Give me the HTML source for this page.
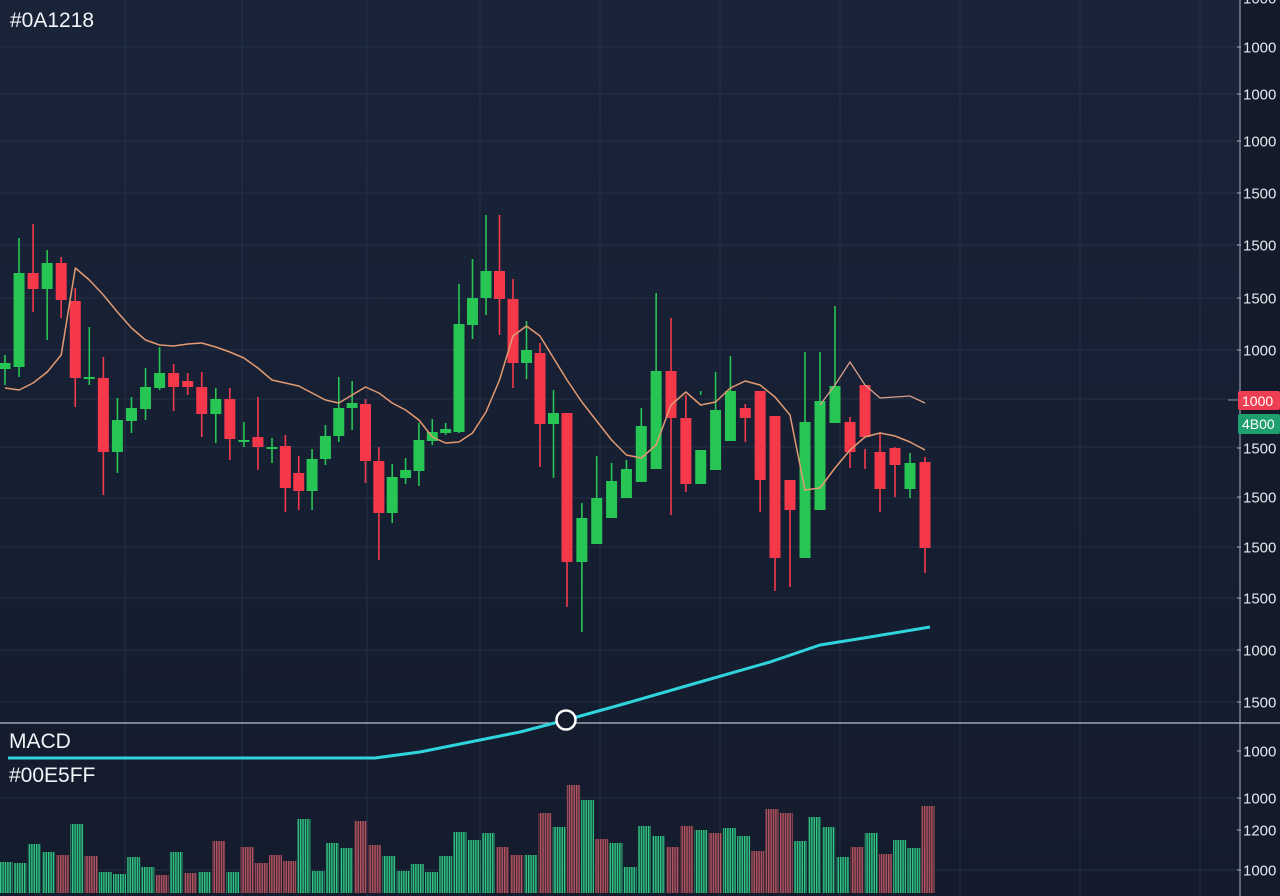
<!DOCTYPE html>
<html><head><meta charset="utf-8">
<style>
html,body{margin:0;padding:0;background:#141c2e;}
#wrap{position:relative;width:1280px;height:896px;overflow:hidden;font-family:"Liberation Sans",sans-serif;}
svg{position:absolute;left:0;top:0;}
.lbl{position:absolute;color:#f2f4f8;font-size:21px;}
</style></head>
<body>
<div id="wrap">
<svg id="chart" width="1280" height="896">
 <defs>
  <linearGradient id="bg" x1="0" y1="0" x2="0" y2="1">
   <stop offset="0" stop-color="#1a2439"/><stop offset="1" stop-color="#131b2c"/>
  </linearGradient>
  <pattern id="stripeG" width="2.4" height="4" patternUnits="userSpaceOnUse">
   <rect width="1.4" height="4" fill="#2fc985"/><rect x="1.4" width="1" height="4" fill="#173a3a"/>
  </pattern>
  <pattern id="stripeR" width="2.4" height="4" patternUnits="userSpaceOnUse">
   <rect width="1.4" height="4" fill="#b4565f"/><rect x="1.4" width="1" height="4" fill="#3a2234"/>
  </pattern>
 </defs>
 <rect width="1280" height="896" fill="url(#bg)"/>
 <rect x="1240" y="0" width="40" height="896" fill="#131a2a"/>
 <g id="grid"></g>
 <g id="volume"></g>
 <g id="candles"></g>
 <g id="mas"></g>
 <g id="macd"></g>
 <g id="axis"></g>
</svg>
<div class="lbl" style="left:10px;top:9px;">#0A1218</div>
<div class="lbl" style="left:9px;top:730px;">MACD</div>
<div class="lbl" style="left:9px;top:764px;">#00E5FF</div>
</div>
<script>
// ---- data ----
const opens  = [431,433,527,511,537,499,423,422,348,379,391,412,427,419,413,386,401,360,363,353,354,327,309,341,364,392,396,339,287,322,329,359,367,368,475,502,529,501,437,447,376,387,238,256,282,302,318,331,429,382,316,330,359,392,409,384,320,242,290,377,378,415,348,352,311,338];
const highs  = [445,562,576,550,543,512,473,443,402,403,432,453,436,427,428,412,412,378,403,362,365,344,351,375,423,419,401,353,336,342,377,381,377,516,541,585,585,521,479,457,410,322,297,344,337,340,392,507,482,405,409,428,444,396,352,302,313,448,448,494,383,351,366,353,347,343];
const lows   = [415,423,488,460,482,393,415,305,327,367,380,410,389,405,363,357,340,353,330,337,288,290,290,335,358,370,317,240,277,316,314,355,365,367,461,485,465,412,421,333,322,193,168,273,288,306,329,370,285,308,405,347,367,358,288,209,213,285,358,378,332,331,288,303,302,227];
const closes = [437,527,511,537,500,422,423,348,380,392,413,427,413,413,386,401,361,360,353,353,312,309,341,364,392,397,339,287,323,330,360,368,371,476,502,529,501,437,450,376,387,238,282,302,319,331,374,429,382,316,350,390,409,382,320,242,290,378,399,414,348,363,311,335,337,252];
const volumes = [31,30,49,41,38,69,37,21,19,36,26,18,41,20,21,52,21,46,30,38,32,74,22,50,45,72,48,37,22,29,21,37,61,53,60,46,38,38,80,66,108,93,54,50,26,67,57,46,67,63,60,65,57,42,84,80,52,76,66,36,46,60,39,53,45,87];
const volUp = [1,1,1,1,0,1,0,1,1,1,1,0,1,0,1,0,1,0,0,0,0,1,1,1,1,0,0,1,1,1,1,1,1,1,1,0,0,1,0,1,0,1,0,1,1,1,1,0,0,1,0,1,1,0,0,0,1,1,1,1,0,1,0,1,1,0];
const maFast = [412,410,417,428,445,532,520,505,488,472,460,455,454,456,457,453,448,442,432,420,417,414,407,400,397,405,413,407,397,390,380,363,357,358,367,388,420,464,474,464,442,420,398,379,360,345,342,355,395,408,395,398,412,419,415,403,385,310,312,332,350,363,367,364,358,350];
const maSlow = [null,null,null,null,null,null,null,null,null,null,null,null,null,null,null,null,null,null,null,null,null,null,null,null,null,null,null,null,null,null,null,null,null,null,null,null,null,null,null,null,null,null,null,null,null,null,null,null,null,null,null,null,null,null,null,null,null,null,395,415,438,415,402,403,404,397];
const macdX = [8,375,420,465,520,566,620,700,770,820,870,930];
const macdY = [758,758,752,743,732,720,705,682,662,645,637,627];
const priceTicks = ["1000","1000","1000","1000","1500","1500","1500","1000","1500","1500","1500","1500","1000","1500"];
const priceTickY = [-2,47,94,141,193,245,298,350,448,497,547,598,650,702];
const volTicks = ["1000","1000","1200","1000"];
const volTickY = [751,798,830,870];

// ---- scales ----
const N = opens.length;
// time axis with uneven session spacing (piecewise linear)
const axisIdx = [0,19,33,41,55,65];
const axisPx  = [5,272,459,567,775,925];
function xScale(i){
  for(let k=1;k<axisIdx.length;k++){
    if(i<=axisIdx[k]){const t=(i-axisIdx[k-1])/(axisIdx[k]-axisIdx[k-1]);return axisPx[k-1]+t*(axisPx[k]-axisPx[k-1]);}
  }
  return axisPx[axisPx.length-1];
}
const vxScale = i => 6 + i*(922/(N-1));
const yScale = v => 800 - v;
const vScale = v => 893 - v;
const NS = "http://www.w3.org/2000/svg";
function mk(tag, attrs, parent){const e=document.createElementNS(NS,tag);for(const k in attrs)e.setAttribute(k,attrs[k]);parent.appendChild(e);return e;}

// grid
const grid = document.getElementById('grid');
[125,242,367,480,600,720,840,960,1080,1200].forEach(x=>{
  const l=mk('line',{x1:x,y1:0,x2:x,y2:896,stroke:'#233047','stroke-width':1},grid);
  
  
});
[47,94,141,193,245,298,350,399,447,498,547,598,650,702,798,870].forEach(y=>{
  const l=mk('line',{x1:0,y1:y,x2:1240,y2:y,stroke:'#223046','stroke-width':1},grid);
  
  
});

// volume
const vg = document.getElementById('volume');
for(let i=0;i<N;i++){
  const x=vxScale(i), top=vScale(volumes[i]);
  const r=mk('rect',{x:x-6.5,y:top,width:13,height:893-top,fill:volUp[i]?'url(#stripeG)':'url(#stripeR)'},vg);
  
  
}

// candles
const cg = document.getElementById('candles');
for(let i=0;i<N;i++){
  const x=xScale(i), up=closes[i]>=opens[i];
  const col = up ? '#27c553' : '#f5394b';
  const g=mk('g',{},cg);
  
  
  mk('line',{x1:x,y1:yScale(highs[i]),x2:x,y2:yScale(lows[i]),stroke:col,'stroke-width':1.6},g);
  const t=yScale(Math.max(opens[i],closes[i])), b=yScale(Math.min(opens[i],closes[i]));
  mk('rect',{x:x-5.5,y:t,width:11,height:Math.max(2,b-t),fill:col},g);
}

// moving averages
const mg = document.getElementById('mas');
function linePath(arr){let d='',pen=false;arr.forEach((v,i)=>{if(v==null){pen=false;return;}d+=(pen?'L':'M')+xScale(i).toFixed(1)+','+yScale(v).toFixed(1)+' ';pen=true;});return d;}
const p1=mk('path',{d:linePath(maFast),fill:'none',stroke:'#e39a72','stroke-width':1.5,'stroke-linejoin':'round'},mg);


const p2=mk('path',{d:linePath(maSlow),fill:'none',stroke:'#d9a08a','stroke-width':1.3},mg);



// separator + macd
const md = document.getElementById('macd');
const sep=mk('line',{x1:0,y1:723,x2:1280,y2:723,stroke:'#b9c0cc','stroke-width':1.2},md);


let d='';macdX.forEach((x,i)=>{d+=(i?'L':'M')+x+','+macdY[i]+' ';});
const ml=mk('path',{d:d,fill:'none',stroke:'#2fd4dc','stroke-width':3,'stroke-linejoin':'round'},md);


const c=mk('circle',{cx:macdX[5],cy:macdY[5],r:9.5,fill:'#141c2e',stroke:'#ffffff','stroke-width':2.5},md);



// axis
const ax = document.getElementById('axis');
const al=mk('line',{x1:1240,y1:0,x2:1240,y2:896,stroke:'#aab2c0','stroke-width':1},ax);


function tick(y,txt,name){
  mk('line',{x1:1237,y1:y,x2:1241,y2:y,stroke:'#aab2c0'},ax);
  const t=mk('text',{x:1243,y:y+5.5,fill:'#e4e8ee','font-size':15,'font-family':'Liberation Sans, sans-serif'},ax);
  t.textContent=txt;
  
  
}
priceTicks.forEach((t,i)=>tick(priceTickY[i],t,'price-tick-label'));
volTicks.forEach((t,i)=>tick(volTickY[i],t,'volume-tick-label'));
mk('line',{x1:1228,y1:400,x2:1240,y2:400,stroke:'#8a93a3'},ax);
const rt=mk('rect',{x:1238,y:391,width:42,height:19,fill:'#ee3e52',rx:2},ax);


const rtt=mk('text',{x:1242,y:406,fill:'#fff','font-size':14,'font-family':'Liberation Sans, sans-serif'},ax);
rtt.textContent='1000';
const gt=mk('rect',{x:1238,y:414,width:42,height:20,fill:'#1f9e6e',rx:2},ax);


const gtt=mk('text',{x:1242,y:429,fill:'#fff','font-size':14,'font-family':'Liberation Sans, sans-serif'},ax);
gtt.textContent='4B00';
</script>
</body></html>
